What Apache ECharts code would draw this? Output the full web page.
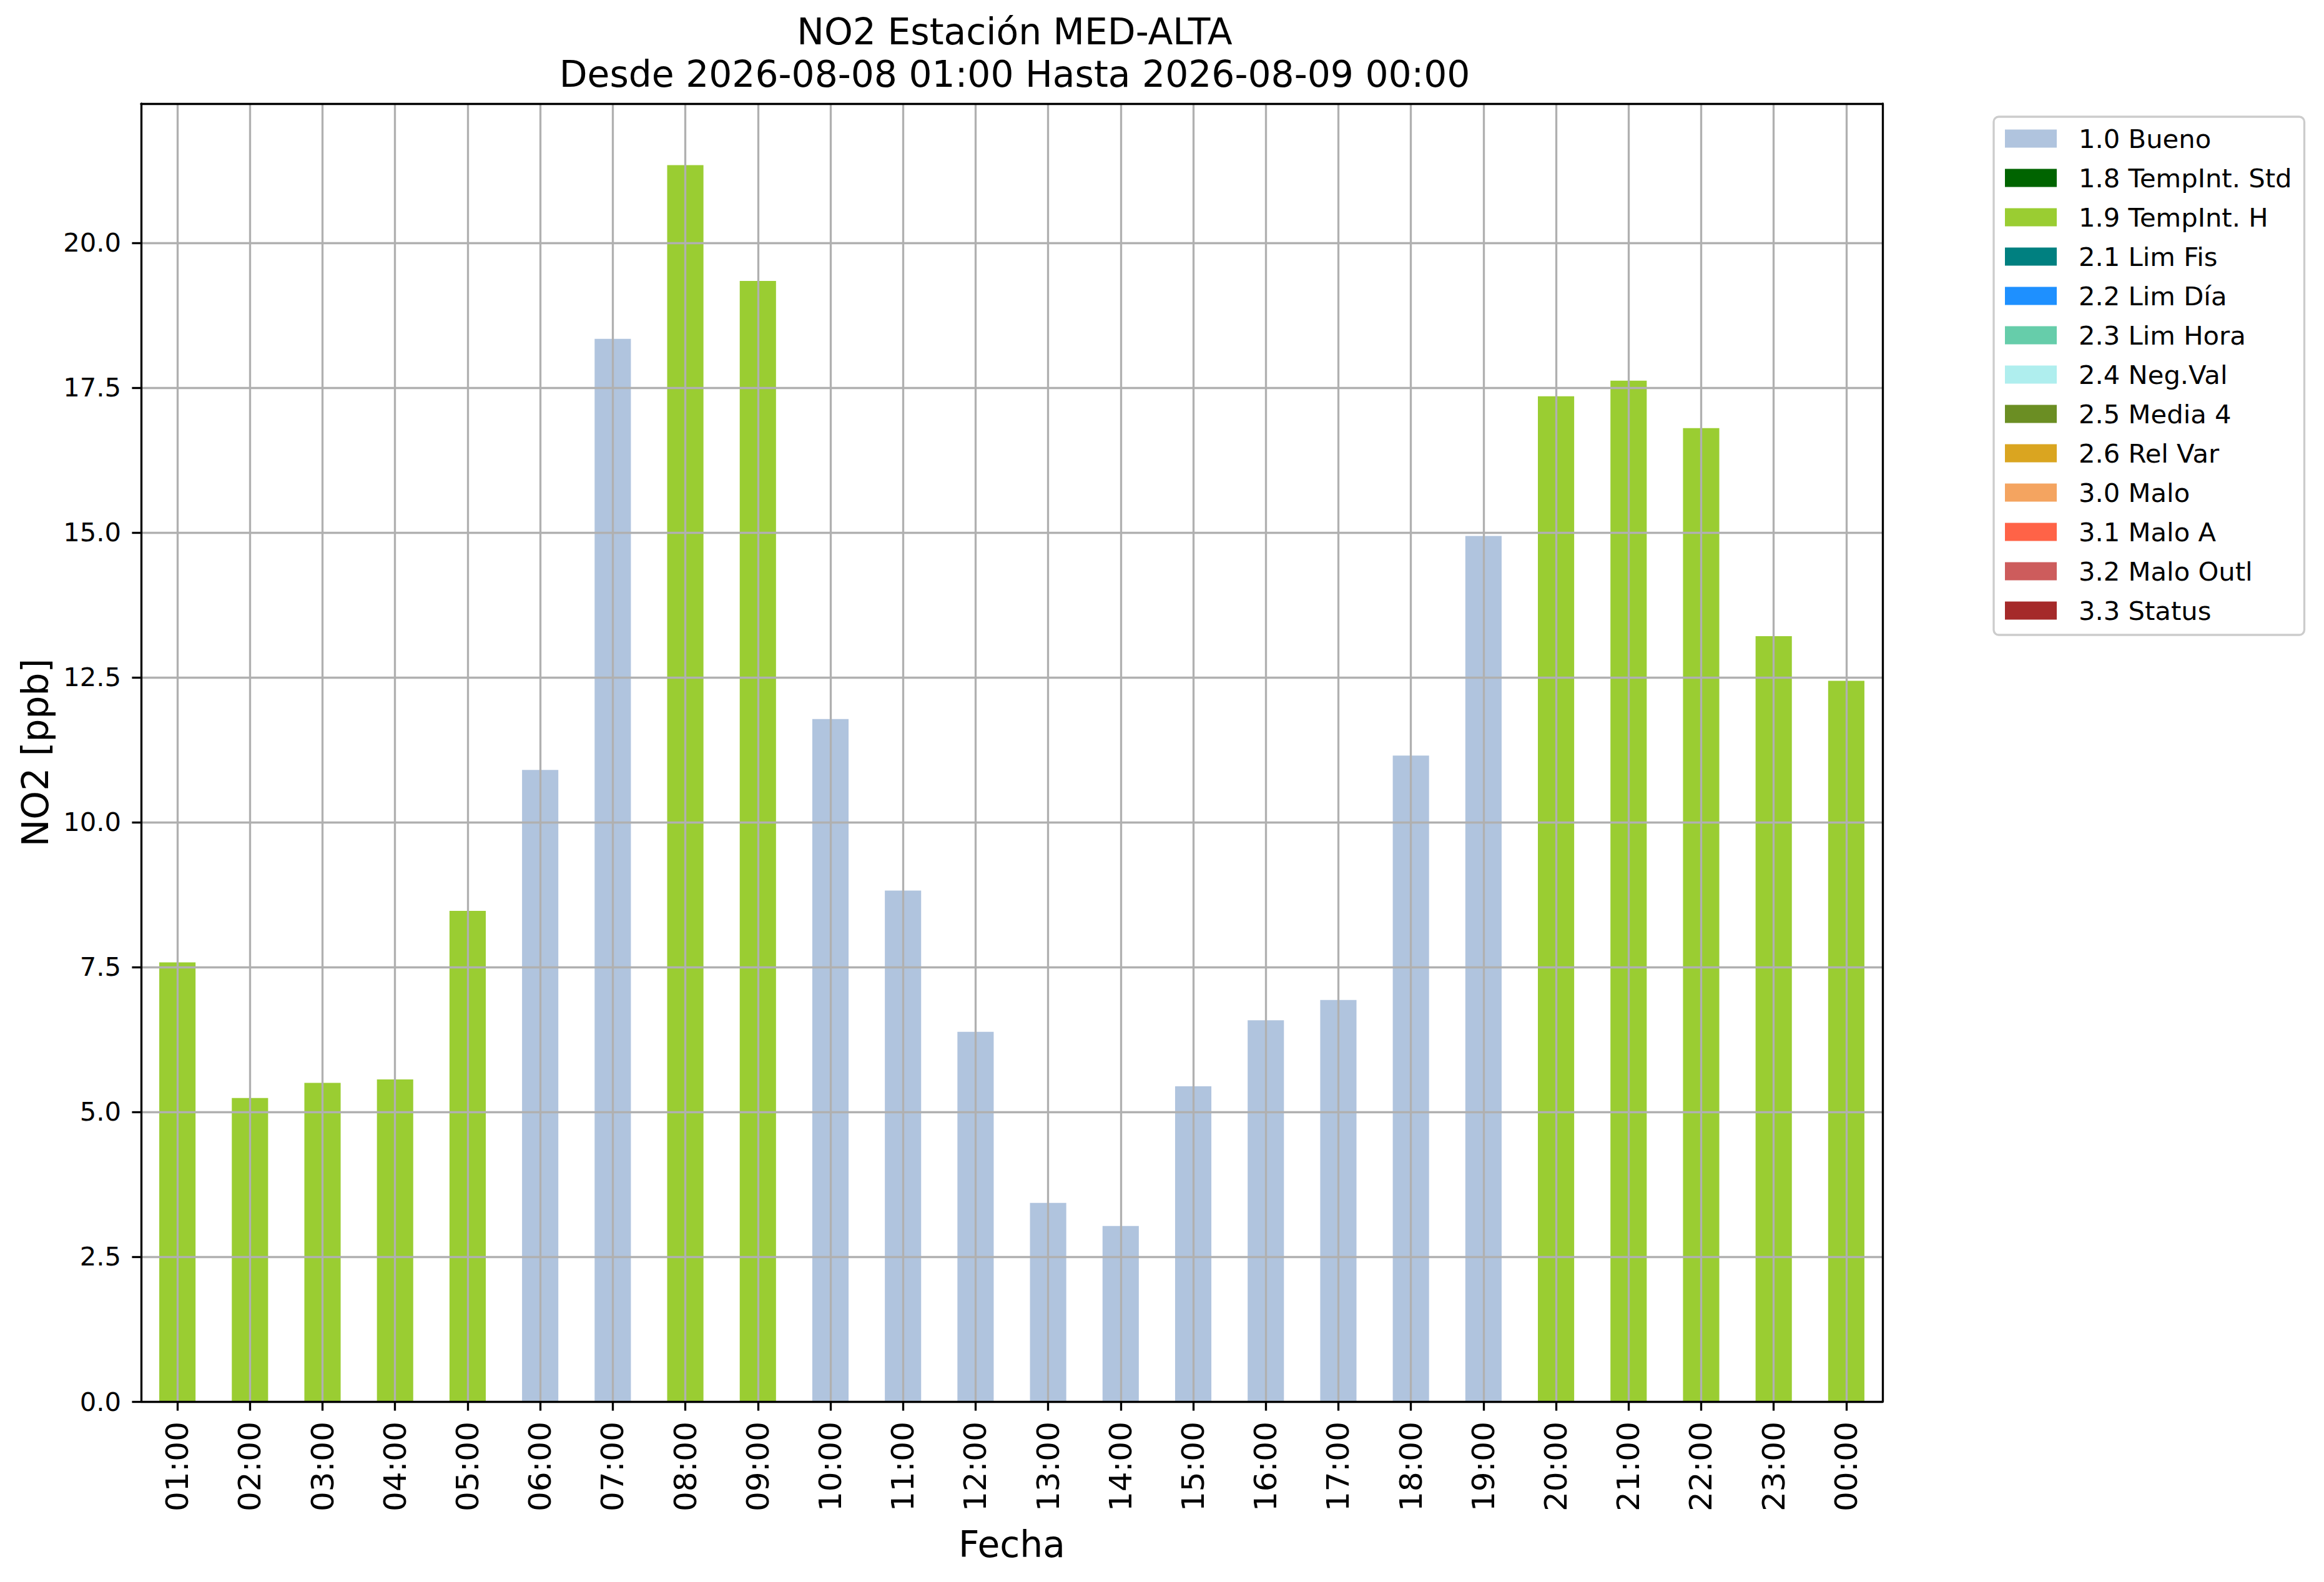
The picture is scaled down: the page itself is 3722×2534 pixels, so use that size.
<!DOCTYPE html>
<html>
<head>
<meta charset="utf-8">
<title>NO2 Estación MED-ALTA</title>
<script src="https://cdn.jsdelivr.net/npm/echarts@6/dist/echarts.min.js"></script>
<style>
  html, body { margin: 0; padding: 0; background: #fff; }
  #chart { width: 3722px; height: 2534px; }
</style>
</head>
<body>
<div id="chart"></div>
<script>
// horas del periodo
var hours = ['01:00','02:00','03:00','04:00','05:00','06:00','07:00','08:00','09:00','10:00','11:00','12:00',
             '13:00','14:00','15:00','16:00','17:00','18:00','19:00','20:00','21:00','22:00','23:00','00:00']

// valores NO2 [ppb]
var no2 = [7.58, 5.24, 5.50, 5.56, 8.47, 10.90, 18.34, 21.34, 19.34, 11.78, 8.82, 6.38,
           3.43, 3.03, 5.44, 6.58, 6.93, 11.15, 14.94, 17.35, 17.62, 16.80, 13.21, 12.44]

// bandera de validacion de cada hora
var flags = ['1.9 TempInt. H','1.9 TempInt. H','1.9 TempInt. H','1.9 TempInt. H','1.9 TempInt. H',
             '1.0 Bueno','1.0 Bueno','1.9 TempInt. H','1.9 TempInt. H',
             '1.0 Bueno','1.0 Bueno','1.0 Bueno','1.0 Bueno','1.0 Bueno','1.0 Bueno','1.0 Bueno',
             '1.0 Bueno','1.0 Bueno','1.0 Bueno',
             '1.9 TempInt. H','1.9 TempInt. H','1.9 TempInt. H','1.9 TempInt. H','1.9 TempInt. H']

var flagNames = ['1.0 Bueno','1.8 TempInt. Std','1.9 TempInt. H','2.1 Lim Fis','2.2 Lim Día','2.3 Lim Hora',
                 '2.4 Neg.Val','2.5 Media 4','2.6 Rel Var','3.0 Malo','3.1 Malo A','3.2 Malo Outl','3.3 Status']
var flagColors = ['#b0c4de','#006400','#9acd32','#008080','#1e90ff','#66cdaa',
                  '#afeeee','#6b8e23','#daa520','#f4a460','#ff6347','#cd5c5c','#a52a2a']

var yTicks = [0, 2.5, 5, 7.5, 10, 12.5, 15, 17.5, 20]

var LW = 3.33       // 0.8pt a 300 dpi
var GRID = '#b0b0b0'

var series = []
for (var k = 0; k < flagNames.length; k++) {
  var name = flagNames[k]
  series.push({
    name: name,
    type: 'bar',
    stack: 'total',
    barWidth: '50%',
    xAxisIndex: 0,
    yAxisIndex: 0,
    itemStyle: { color: flagColors[k] },
    data: no2.map(function (v, i) { return flags[i] === name ? v : 0 })
  })
}

var chart = echarts.init(document.getElementById('chart'), null, { renderer: 'svg' })

var option = {
  animation: false,
  backgroundColor: '#ffffff',
  textStyle: { fontFamily: 'DejaVu Sans', color: '#000' },
  title: {
    text: 'NO2 Estación MED-ALTA\nDesde 2026-08-08 01:00 Hasta 2026-08-09 00:00',
    left: 1620,
    top: 12,
    textAlign: 'center',
    textStyle: { fontFamily: 'DejaVu Sans', fontSize: 58.3, fontWeight: 'normal', color: '#000', lineHeight: 68 }
  },
  legend: {
    orient: 'vertical',
    left: 3193,
    top: 187,
    padding: [14, 20, 18, 18],
    itemWidth: 83,
    itemHeight: 29,
    itemGap: 21,
    icon: 'rect',
    backgroundColor: 'rgba(255,255,255,0.8)',
    borderColor: '#cccccc',
    borderWidth: LW,
    borderRadius: 8,
    data: flagNames,
    textStyle: { fontFamily: 'DejaVu Sans', fontSize: 41.7, lineHeight: 42, color: '#000', padding: [0, 0, 0, 30] }
  },
  grid: {
    left: 226,
    top: 166,
    width: 2789,
    height: 2079,
    containLabel: false,
    outerBoundsMode: 'none'
  },
  xAxis: [{
    type: 'category',
    data: hours,
    boundaryGap: true,
    z: 12,
    name: 'Fecha',
    nameLocation: 'middle',
    nameGap: 200,
    nameTextStyle: { fontFamily: 'DejaVu Sans', fontSize: 58.3, color: '#000' },
    axisLine: { show: true, lineStyle: { color: '#000', width: LW } },
    axisTick: { show: true, alignWithLabel: true, length: 14.6, lineStyle: { color: '#000', width: LW } },
    axisLabel: { rotate: 90, fontSize: 50, margin: 32, color: '#000', interval: 0 },
    splitLine: { show: true, alignWithLabel: true, lineStyle: { color: GRID, width: LW } }
  }, {
    type: 'category',
    data: hours,
    position: 'top',
    z: 12,
    axisLine: { show: true, onZero: false, lineStyle: { color: '#000', width: LW } },
    axisTick: { show: false },
    axisLabel: { show: false },
    splitLine: { show: false }
  }],
  yAxis: [{
    type: 'value',
    min: 0,
    max: 22.4,
    interval: 2.5,
    z: 11,
    name: 'NO2 [ppb]',
    nameLocation: 'middle',
    nameGap: 140,
    nameTextStyle: { fontFamily: 'DejaVu Sans', fontSize: 58.3, color: '#000' },
    axisLine: { show: true, lineStyle: { color: '#000', width: LW } },
    axisTick: { show: true, length: 14.6, customValues: yTicks, lineStyle: { color: '#000', width: LW } },
    axisLabel: {
      fontSize: 41.7, margin: 32, color: '#000', customValues: yTicks,
      formatter: function (v) { return v.toFixed(1) }
    },
    splitLine: { show: true, showMinLine: false, lineStyle: { color: GRID, width: LW } }
  }, {
    type: 'value',
    min: 0,
    max: 22.4,
    position: 'right',
    z: 12,
    axisLine: { show: true, onZero: false, lineStyle: { color: '#000', width: LW } },
    axisTick: { show: false },
    axisLabel: { show: false },
    splitLine: { show: false }
  }],
  series: series
}

chart.setOption(option)
</script>
</body>
</html>
